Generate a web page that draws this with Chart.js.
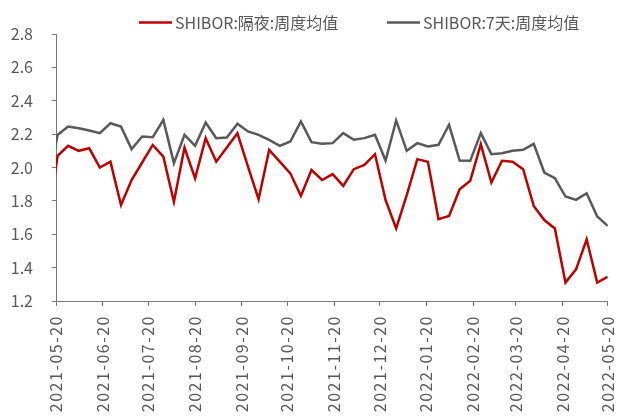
<!DOCTYPE html>
<html>
<head>
<meta charset="utf-8">
<script src="https://cdn.jsdelivr.net/npm/chart.js@4.4.0/dist/chart.umd.min.js"></script>
<style>
    html, body { margin: 0; padding: 0; background: #fff; }
    #wrap { width: 636px; height: 417px; }
</style>
</head>
<body>
<div id="wrap"><canvas id="graph"></canvas></div>
<script>
// axis starts here, weekly averages are dated on Fridays
const startDate = "2021-05-20";
const firstWeek = "2021-05-14";

const tickLabels = [
    "2021-05-20", "2021-06-20", "2021-07-20", "2021-08-20", "2021-09-20",
    "2021-10-20", "2021-11-20", "2021-12-20", "2022-01-20", "2022-02-20",
    "2022-03-20", "2022-04-20", "2022-05-20"
];

const seriesNames = ["SHIBOR:隔夜:周度均值", "SHIBOR:7天:周度均值"];

const overnight = [
    1.60, 2.07, 2.13, 2.10, 2.115, 2.00, 2.035, 1.775, 1.925, 2.03,
    2.135, 2.065, 1.795, 2.12, 1.935, 2.175, 2.035, 2.12, 2.205, 2.005,
    1.81, 2.105, 2.035, 1.965, 1.83, 1.985, 1.925, 1.96, 1.89, 1.99,
    2.015, 2.08, 1.805, 1.635, 1.835, 2.05, 2.035, 1.69, 1.71, 1.87,
    1.92, 2.14, 1.91, 2.04, 2.035, 1.99, 1.77, 1.685, 1.635, 1.31,
    1.39, 1.57, 1.31, 1.345
];

const sevenDay = [
    1.85, 2.195, 2.245, 2.235, 2.222, 2.206, 2.265, 2.245, 2.11, 2.186,
    2.182, 2.285, 2.026, 2.196, 2.13, 2.27, 2.176, 2.18, 2.262, 2.216,
    2.196, 2.166, 2.13, 2.156, 2.276, 2.152, 2.142, 2.146, 2.206, 2.166,
    2.176, 2.196, 2.042, 2.282, 2.10, 2.146, 2.126, 2.136, 2.256, 2.042,
    2.04, 2.206, 2.08, 2.086, 2.10, 2.106, 2.142, 1.97, 1.936, 1.826,
    1.806, 1.846, 1.706, 1.65
];

const dayOf = s => (Date.parse(s) - Date.parse(startDate)) / 86400000;
const tickDays = tickLabels.map(dayOf);
const weekDays = overnight.map((_, i) => dayOf(firstWeek) + 7 * i);

const textColor = "#595959";
const axisColor = "#7a7a7a";
const fontFamily = "'Noto Sans CJK SC', 'Noto Sans', sans-serif";

Chart.defaults.font.family = fontFamily;
Chart.defaults.font.size = 16;
Chart.defaults.color = textColor;

// legend drawn by hand so the wide gap between the two items matches
const lineLegend = {
    id: "lineLegend",
    afterDraw(chart) {
        const ctx = chart.ctx;
        const starts = [139, 387];
        const y = 22.5;
        ctx.save();
        ctx.font = "16px " + fontFamily;
        ctx.textBaseline = "middle";
        chart.data.datasets.forEach((ds, i) => {
            ctx.strokeStyle = ds.borderColor;
            ctx.lineWidth = 2.5;
            ctx.beginPath();
            ctx.moveTo(starts[i], y);
            ctx.lineTo(starts[i] + 33, y);
            ctx.stroke();
            ctx.fillStyle = textColor;
            ctx.fillText(ds.label, starts[i] + 36, y);
        });
        ctx.restore();
    }
};

// the date labels are set a bit wider than the rest of the text
const spacedXLabels = {
    id: "spacedXLabels",
    afterLayout(chart) {
        const sc = chart.scales.x;
        if (sc._spaced) return;
        const orig = sc.drawLabels;
        sc.drawLabels = function (area) {
            const c = this.ctx;
            c.save();
            c.letterSpacing = "1.5px";
            orig.call(this, area);
            c.restore();
        };
        sc._spaced = true;
    }
};

const graph = document.getElementById("graph").getContext("2d");

let myChart = new Chart(graph, {
    type: "line",
    data: {
        datasets: [
            {
                label: seriesNames[0],
                data: overnight.map((v, i) => ({ x: weekDays[i], y: v })),
                borderColor: "#C00000",
                borderWidth: 2.5,
                pointRadius: 0,
                tension: 0,
                clip: 0
            },
            {
                label: seriesNames[1],
                data: sevenDay.map((v, i) => ({ x: weekDays[i], y: v })),
                borderColor: "#595959",
                borderWidth: 2.5,
                pointRadius: 0,
                tension: 0,
                clip: 0
            }
        ]
    },
    options: {
        responsive: true,
        maintainAspectRatio: false,
        animation: false,
        layout: {
            padding: { top: 34, right: 8, left: 0, bottom: 0 }
        },
        plugins: {
            legend: { display: false },
            tooltip: { enabled: false }
        },
        scales: {
            x: {
                type: "linear",
                min: 0,
                max: 365,
                afterBuildTicks: s => { s.ticks = tickDays.map(v => ({ value: v })); },
                afterFit: s => { s.height = 116; },
                grid: { drawOnChartArea: false, tickLength: 5, color: axisColor },
                border: { color: axisColor, width: 1 },
                ticks: {
                    autoSkip: false,
                    minRotation: 90,
                    maxRotation: 90,
                    padding: 9,
                    callback: (v, i) => tickLabels[i]
                }
            },
            y: {
                min: 1.2,
                max: 2.8,
                afterFit: s => { s.width = 56; },
                grid: { drawOnChartArea: false, tickLength: 4, color: axisColor },
                border: { color: axisColor, width: 1 },
                ticks: {
                    stepSize: 0.2,
                    padding: 19,
                    callback: v => v.toFixed(1)
                }
            }
        }
    },
    plugins: [lineLegend, spacedXLabels]
});
</script>
</body>
</html>
